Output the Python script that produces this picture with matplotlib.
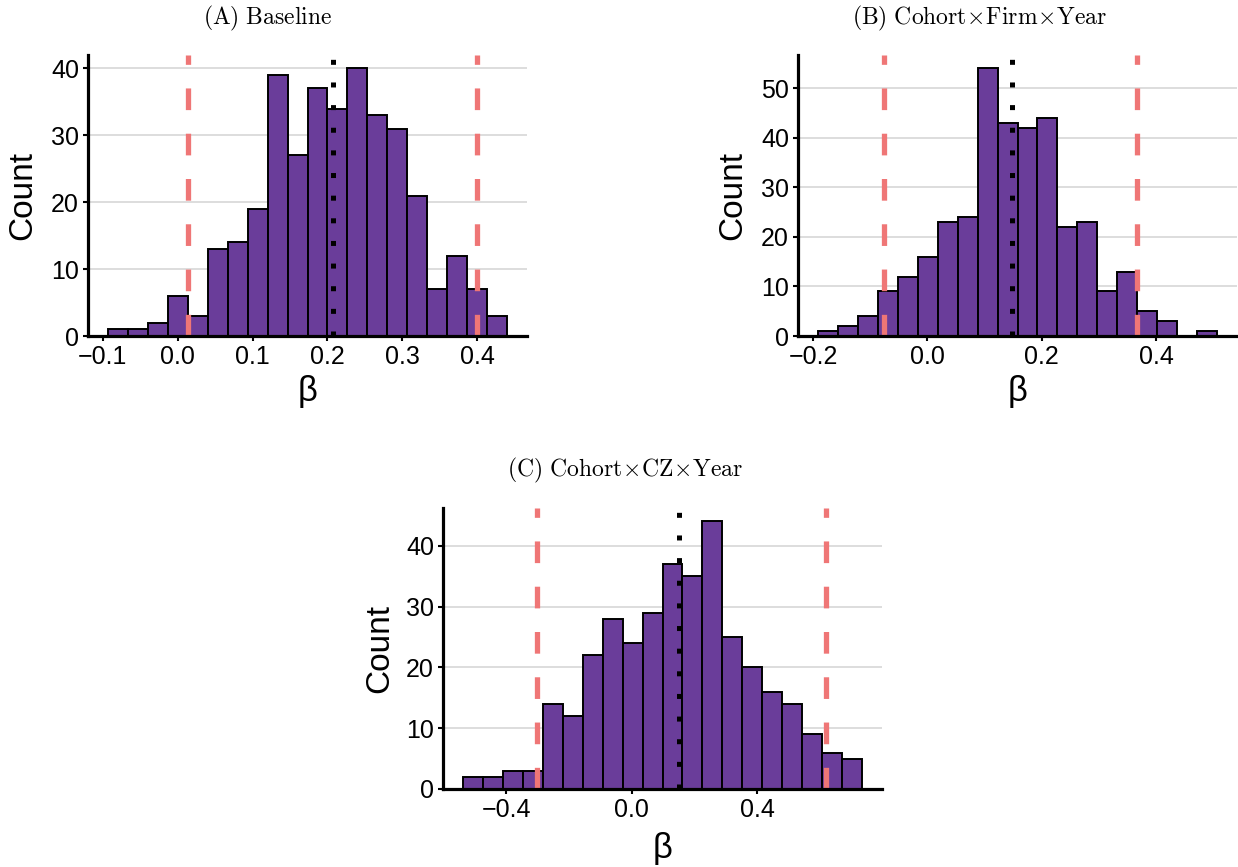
import numpy as np
import matplotlib
matplotlib.use('Agg')
import matplotlib.pyplot as plt
from matplotlib.ticker import FixedLocator, FuncFormatter

plt.rcParams['font.family'] = ['Liberation Sans', 'DejaVu Sans']
plt.rcParams['mathtext.fontset'] = 'cm'
plt.rcParams['lines.scale_dashes'] = False

# ---------------- data ----------------
a_title = r"$\mathrm{(A)\ Baseline}$"
a_bin_start = -0.0933
a_bin_width = 0.02667
a_counts = [1, 1, 2, 6, 3, 13, 14, 19, 39, 27, 37, 34, 40, 33, 31, 21, 7, 12, 7, 3]
a_ci = [0.0135, 0.400]
a_median = 0.208
a_xticks = [-0.1, 0.0, 0.1, 0.2, 0.3, 0.4]
a_yticks = [0, 10, 20, 30, 40]

b_title = r"$\mathrm{(B)\ Cohort\!\times\! Firm\!\times\! Year}$"
b_bin_start = -0.1913
b_bin_width = 0.0349
b_counts = [1, 2, 4, 9, 12, 16, 23, 24, 54, 43, 42, 44, 22, 23, 9, 13, 5, 3, 0, 1]
b_ci = [-0.0759, 0.3664]
b_median = 0.1479
b_xticks = [-0.2, 0.0, 0.2, 0.4]
b_yticks = [0, 10, 20, 30, 40, 50]

c_title = r"$\mathrm{(C)\ Cohort\!\times\! CZ\!\times\! Year}$"
c_bin_start = -0.5383
c_bin_width = 0.0636
c_counts = [2, 2, 3, 3, 14, 12, 22, 28, 24, 29, 37, 35, 44, 25, 20, 16, 14, 9, 6, 5]
c_ci = [-0.3024, 0.620]
c_median = 0.149
c_xticks = [-0.4, 0.0, 0.4]
c_yticks = [0, 10, 20, 30, 40]

x_label = "β"
y_label = "Count"

# ---------------- style ----------------
W, H = 1238, 867
BAR_COLOR = "#6A3D9A"
CI_COLOR = "#EF7676"
GRID_COLOR = "#DADADA"

fig = plt.figure(figsize=(W / 100, H / 100), dpi=100)
fig.patch.set_facecolor("white")


def fmt(v, pos=None):
    s = f"{v:.1f}"
    if s == "-0.0":
        s = "0.0"
    return s.replace("-", "\u2212")


def panel(rect_px, title, title_xy, start, width, counts, ci, median,
          xticks, yticks, ylab_x, xlab_y):
    l, t, r, b = rect_px
    ax = fig.add_axes([l / W, (H - b) / H, (r - l) / W, (b - t) / H])
    counts = np.asarray(counts, dtype=float)
    n = len(counts)
    edges = start + width * np.arange(n + 1)
    ax.bar(edges[:-1], counts, width=width, align='edge', color=BAR_COLOR,
           edgecolor='black', linewidth=1.4, zorder=2)
    lo, hi = edges[0], edges[-1]
    pad = 0.05 * (hi - lo)
    ax.set_xlim(lo - pad, hi + pad)
    ax.set_ylim(0, counts.max() * 1.05)

    for v in ci:
        ax.axvline(v, color=CI_COLOR, linewidth=3.8,
                   linestyle=(0, (15.6, 17.0)), dash_capstyle='butt', zorder=3)
    ax.axvline(median, color='black', linewidth=3.6,
               linestyle=(0, (3.6, 12.7)), dash_capstyle='butt', zorder=3)

    ax.yaxis.set_major_locator(FixedLocator(yticks))
    ax.xaxis.set_major_locator(FixedLocator(xticks))
    ax.xaxis.set_major_formatter(FuncFormatter(fmt))
    ax.yaxis.grid(True, color=GRID_COLOR, linewidth=1.3, zorder=0)
    ax.xaxis.grid(False)
    ax.set_axisbelow(True)

    for s in ('top', 'right'):
        ax.spines[s].set_visible(False)
    for s in ('left', 'bottom'):
        ax.spines[s].set_linewidth(2.3)
        ax.spines[s].set_color('black')
        ax.spines[s].set_zorder(4)
    ax.tick_params(axis='both', direction='out', length=3.5, width=1.5,
                   color='black', labelsize=18, labelcolor='black', pad=3)

    ax.set_xlabel(x_label, fontsize=25, va='center')
    ax.xaxis.set_label_coords(0.5, xlab_y)
    ax.set_ylabel(y_label, fontsize=24, va='center')
    ax.yaxis.set_label_coords(ylab_x, 0.5)

    fig.text(title_xy[0] / W, 1 - title_xy[1] / H, title, fontsize=17,
             ha='center', va='center')
    return ax


panel((88, 55, 527, 336), a_title, (268, 18), a_bin_start, a_bin_width, a_counts,
      a_ci, a_median, a_xticks, a_yticks, -0.148, -0.199)
panel((798, 55, 1237, 336), b_title, (980, 18), b_bin_start, b_bin_width, b_counts,
      b_ci, b_median, b_xticks, b_yticks, -0.148, -0.199)
panel((443, 508, 882, 789), c_title, (625, 470), c_bin_start, c_bin_width, c_counts,
      c_ci, c_median, c_xticks, c_yticks, -0.1435, -0.21)

fig.savefig("out.png", dpi=100, facecolor='white')
